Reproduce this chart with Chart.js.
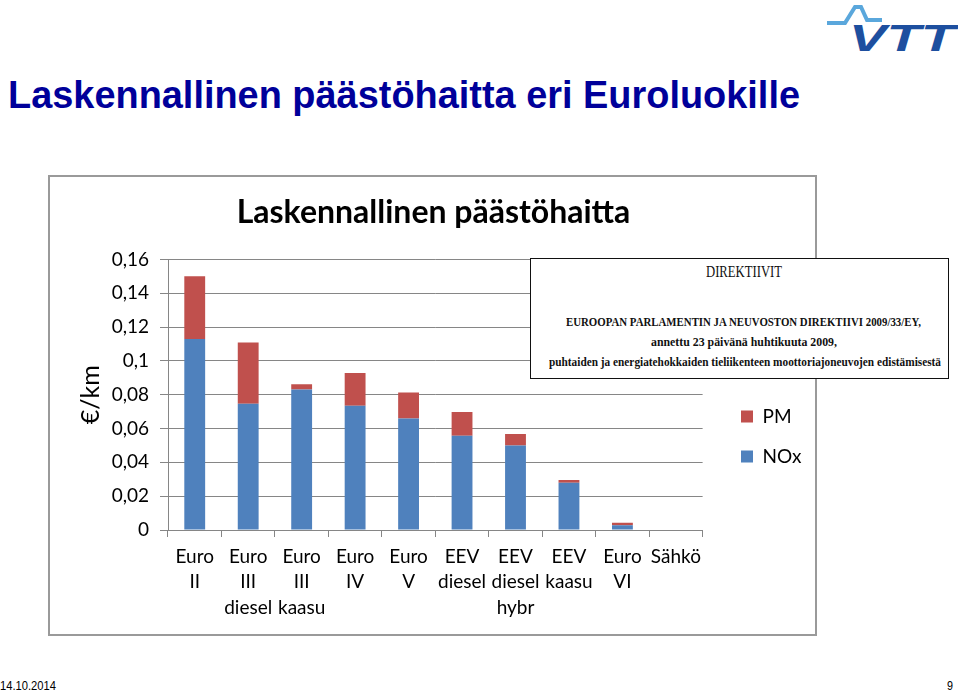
<!DOCTYPE html>
<html>
<head>
<meta charset="utf-8">
<script src="https://cdn.jsdelivr.net/npm/chart.js@4.4.1/dist/chart.umd.min.js"></script>
<style>
  html, body { margin: 0; padding: 0; background: #fff; }
  body { width: 959px; height: 691px; position: relative; overflow: hidden; font-family: 'Liberation Sans', Arial, sans-serif; }
  .fit { position: absolute; white-space: nowrap; transform-origin: 0 0; }
  #slideTitle { top: 76px; font-size: 38px; line-height: 38px; font-weight: bold; color: #00009a; }
  #logo { position: absolute; left: 824px; top: 3px; }
  #chartBox { position: absolute; left: 48px; top: 175px; width: 765px; height: 457px; border: 2px solid #9a9a9a; }
  #chartBox canvas { position: absolute; left: 0; top: 0; }
  #inset { position: absolute; left: 530px; top: 258px; width: 417px; height: 119px; border: 1.5px solid #111; background: #fff;
           font-family: 'Liberation Serif', 'DejaVu Serif', serif; color: #111; }
  #inset .fit { line-height: 1; }
  .foot { font-size: 13px; line-height: 13px; color: #000; top: 679px; }
</style>
</head>
<body>
<div class="fit" id="slideTitle" data-x="8" data-w="792">Laskennallinen päästöhaitta eri Euroluokille</div>

<svg id="logo" width="134" height="50" viewBox="0 0 134 50">
  <path d="M3 20 H21 L31 4 H37 L43 17 H58" stroke="#5aa7dc" stroke-width="4" fill="none" stroke-linejoin="miter"/>
  <text x="25" y="48" font-family="Liberation Sans" font-weight="bold" font-style="italic" font-size="36"
        fill="#1d4f9f" textLength="106" lengthAdjust="spacingAndGlyphs">VTT</text>
</svg>

<div id="chartBox"><canvas id="chart" width="765" height="457"></canvas></div>

<div id="inset">
  <div class="fit" data-cx="213" data-w="76" style="top:4px;font-size:17px;">DIREKTIIVIT</div>
  <div class="fit" data-cx="212" data-w="355" style="top:56px;font-size:13px;font-weight:bold;">EUROOPAN PARLAMENTIN JA NEUVOSTON DIREKTIIVI 2009/33/EY,</div>
  <div class="fit" data-cx="213" data-w="186" style="top:76px;font-size:13px;font-weight:bold;">annettu 23 päivänä huhtikuuta 2009,</div>
  <div class="fit" data-cx="214" data-w="392" style="top:96px;font-size:13px;font-weight:bold;">puhtaiden ja energiatehokkaiden tieliikenteen moottoriajoneuvojen edistämisestä</div>
</div>

<div class="fit foot" data-x="0" data-w="56">14.10.2014</div>
<div class="fit foot" data-x="947" data-w="6">9</div>

<script>
// data
const categories = [
  ['Euro', 'II'], ['Euro', 'III', 'diesel'], ['Euro', 'III', 'kaasu'], ['Euro', 'IV'], ['Euro', 'V'],
  ['EEV', 'diesel'], ['EEV', 'diesel', 'hybr'], ['EEV', 'kaasu'], ['Euro', 'VI'], ['Sähkö']
]
const noxValues = [0.113, 0.0746, 0.0831, 0.0734, 0.0659, 0.0557, 0.050, 0.0279, 0.0028, 0]
const pmValues = [0.037, 0.0362, 0.0031, 0.0195, 0.0154, 0.0141, 0.0068, 0.0016, 0.0015, 0]
const yTickLabels = ['0', '0,02', '0,04', '0,06', '0,08', '0,1', '0,12', '0,14', '0,16']

// squeeze html texts to the widths seen in the picture
document.querySelectorAll('.fit').forEach(el => {
  const target = +el.dataset.w
  const w = el.getBoundingClientRect().width
  const left = el.dataset.cx !== undefined ? +el.dataset.cx - target / 2 : +el.dataset.x
  el.style.left = left + 'px'
  el.style.transform = 'scaleX(' + (target / w) + ')'
})

// move the legend to where it sits in the original
const legendPlacer = {
  id: 'legendPlacer',
  afterLayout(chart) {
    const lg = chart.legend
    const dx = 670 - lg.left
    const dy = 209 - lg.top
    lg.left += dx; lg.right += dx
    lg.top += dy; lg.bottom += dy
  }
}

Chart.defaults.font.family = 'Lato'
Chart.defaults.color = '#000'

const gridColor = '#868686'

new Chart(document.getElementById('chart'), {
  type: 'bar',
  data: {
    labels: categories,
    datasets: [
      { label: 'NOx', data: noxValues, backgroundColor: '#4f81bd', barPercentage: 0.39, categoryPercentage: 1 },
      { label: 'PM', data: pmValues, backgroundColor: '#c0504d', barPercentage: 0.39, categoryPercentage: 1 }
    ]
  },
  options: {
    responsive: false,
    animation: false,
    layout: { padding: { left: 23, right: 21, top: 0, bottom: 14 } },
    plugins: {
      title: {
        display: true,
        text: 'Laskennallinen päästöhaitta',
        font: { size: 32, weight: 'bold' },
        padding: { top: 16, bottom: 28 }
      },
      legend: {
        position: 'right',
        align: 'start',
        reverse: true,
        labels: { font: { size: 19 }, boxWidth: 12, boxHeight: 12, padding: 21 }
      },
      tooltip: { enabled: false }
    },
    scales: {
      x: {
        stacked: true,
        ticks: { font: { size: 19, lineHeight: 1.34 }, padding: 7, autoSkip: false, maxRotation: 0, minRotation: 0 },
        grid: { drawOnChartArea: false, color: gridColor, tickLength: 7, offset: true },
        border: { color: gridColor },
        afterFit: s => { s.height = 90 }
      },
      y: {
        stacked: true,
        min: 0,
        max: 0.16,
        ticks: { stepSize: 0.02, padding: 11, font: { size: 19 }, callback: v => yTickLabels[Math.round(v / 0.02)] },
        grid: { color: gridColor, tickLength: 8 },
        border: { color: gridColor },
        title: { display: true, text: '€/km', font: { size: 25 }, padding: { top: 3, bottom: 4 } },
        afterFit: s => { s.width = 95 }
      }
    }
  },
  plugins: [legendPlacer]
})
</script>
</body>
</html>
